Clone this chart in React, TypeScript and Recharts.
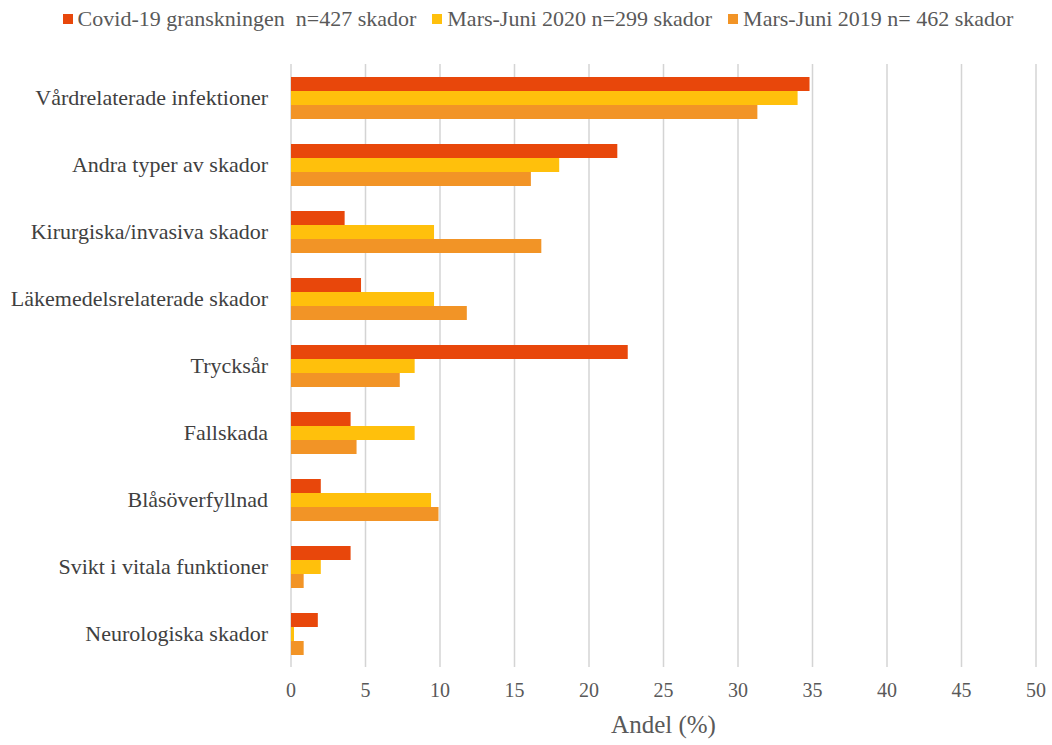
import React from "react";
import { BarChart, Bar, XAxis, YAxis, CartesianGrid, Legend } from "recharts";

const categories = [
  "Vårdrelaterade infektioner",
  "Andra typer av skador",
  "Kirurgiska/invasiva skador",
  "Läkemedelsrelaterade skador",
  "Trycksår",
  "Fallskada",
  "Blåsöverfyllnad",
  "Svikt i vitala funktioner",
  "Neurologiska skador",
];
const covid = [34.8, 21.9, 3.6, 4.7, 22.6, 4.0, 2.0, 4.0, 1.8];
const mars2020 = [34.0, 18.0, 9.6, 9.6, 8.3, 8.3, 9.4, 2.0, 0.2];
const mars2019 = [31.3, 16.1, 16.8, 11.8, 7.3, 4.4, 9.9, 0.85, 0.85];
const xTicks = [0, 5, 10, 15, 20, 25, 30, 35, 40, 45, 50];

const seriesNames = [
  "Covid-19 granskningen  n=427 skador",
  "Mars-Juni 2020 n=299 skador",
  "Mars-Juni 2019 n= 462 skador",
];
const colors = ["#E8470B", "#FFC00C", "#F29426"];

const data = categories.map((name, i) => ({
  name,
  covid: covid[i],
  m2020: mars2020[i],
  m2019: mars2019[i],
}));

const FONT = "'Liberation Serif', 'Times New Roman', serif";

const renderLegend = () => (
  <div
    style={{
      display: "flex",
      justifyContent: "center",
      alignItems: "center",
      height: 30,
      paddingLeft: 40,
      fontFamily: FONT,
      fontSize: 22,
      color: "#595959",
      whiteSpace: "pre",
    }}
  >
    {seriesNames.map((n, i) => (
      <div key={n} style={{ display: "flex", alignItems: "center", marginRight: i < 2 ? 16 : 0 }}>
        <span
          style={{
            display: "inline-block",
            width: 10,
            height: 10,
            background: colors[i],
            marginRight: 5,
          }}
        />
        <span>{n}</span>
      </div>
    ))}
  </div>
);

export default function App() {
  return (
    <div style={{ position: "fixed", top: 0, left: 0, width: 1052, height: 745, fontFamily: FONT, background: "#fff" }}>
      <BarChart
        width={1052}
        height={745}
        data={data}
        layout="vertical"
        margin={{ top: 34, right: 16, bottom: 0, left: 0 }}
        barGap={0}
        barSize={14}
      >
        <CartesianGrid horizontal={false} stroke="#d4d4d4" strokeWidth={1.5} />
        <XAxis
          type="number"
          domain={[0, 50]}
          ticks={xTicks}
          tickLine={false}
          axisLine={false}
          height={78}
          tick={{ fill: "#595959", fontSize: 20, fontFamily: FONT }}
          tickMargin={10}
          label={{
            value: "Andel (%)",
            position: "insideBottom",
            offset: 12,
            fill: "#595959",
            fontSize: 25,
            fontFamily: FONT,
          }}
        />
        <YAxis
          type="category"
          dataKey="name"
          width={291}
          tickLine={false}
          axisLine={false}
          tickMargin={17}
          interval={0}
          tick={{ fill: "#404040", fontSize: 22, fontFamily: FONT }}
        />
        <Legend verticalAlign="top" align="center" content={renderLegend} wrapperStyle={{ top: 4 }} />
        <Bar dataKey="covid" fill={colors[0]} isAnimationActive={false} />
        <Bar dataKey="m2020" fill={colors[1]} isAnimationActive={false} />
        <Bar dataKey="m2019" fill={colors[2]} isAnimationActive={false} />
      </BarChart>
    </div>
  );
}
